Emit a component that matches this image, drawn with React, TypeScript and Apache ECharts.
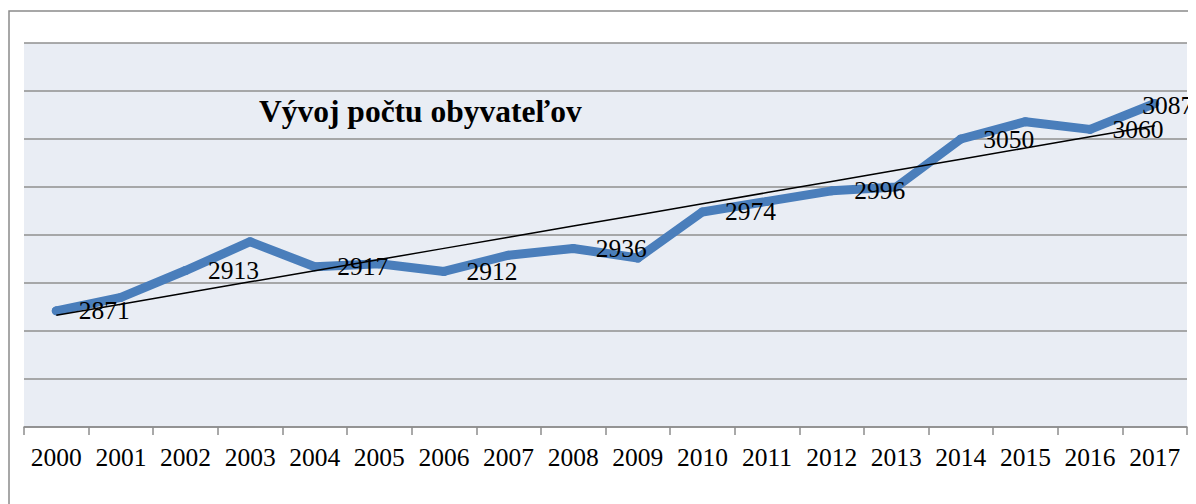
import React, { useEffect, useRef } from "react";
import * as echarts from "echarts";

const years = ["2000","2001","2002","2003","2004","2005","2006","2007","2008","2009","2010","2011","2012","2013","2014","2015","2016","2017"];
const population = [2871, 2885, 2913, 2943, 2917, 2920, 2912, 2929, 2936, 2926, 2974, 2985, 2996, 3000, 3050, 3068, 3060, 3087];
const labeledYears = ["2000","2002","2004","2006","2008","2010","2012","2014","2016","2017"];
const titleText = "Vývoj počtu obyvateľov";

const FONT = "'Liberation Serif', 'Times New Roman', serif";

function linearTrend(values: number[]): number[] {
  const n = values.length;
  const mx = (n - 1) / 2;
  const my = values.reduce((a, b) => a + b, 0) / n;
  let sxy = 0, sxx = 0;
  values.forEach((v, i) => { sxy += (i - mx) * (v - my); sxx += (i - mx) * (i - mx); });
  const slope = sxy / sxx;
  return values.map((_, i) => my + slope * (i - mx));
}

export default function App() {
  const ref = useRef<HTMLDivElement>(null);
  useEffect(() => {
    document.body.style.overflow = "hidden";
    document.documentElement.style.overflow = "hidden";
    if (!ref.current) return;
    const chart = echarts.init(ref.current, undefined, { renderer: "svg" });
    const trend = linearTrend(population);
    const lastIdx = years.length - 1;
    chart.setOption({
      animation: false,
      backgroundColor: "#ffffff",
      grid: {
        left: 16, top: 35, width: 1163, height: 384,
        show: true, backgroundColor: "#E9EDF4", borderWidth: 0,
      },
      xAxis: {
        type: "category",
        data: years,
        boundaryGap: true,
        axisLine: { show: true, lineStyle: { color: "#8c8c8c", width: 1.5 } },
        axisTick: { show: true, length: 8, interval: 0, lineStyle: { color: "#8c8c8c", width: 1.5 } },
        axisLabel: { interval: 0, fontSize: 25.5, fontFamily: FONT, color: "#000", margin: 17 },
        splitLine: { show: false },
      },
      yAxis: {
        type: "value",
        min: 2750, max: 3150, interval: 50,
        axisLabel: { show: false },
        axisLine: { show: false },
        axisTick: { show: false },
        splitLine: { show: true, lineStyle: { color: "#8f8f8f", width: 1.5 } },
      },
      graphic: [
        {
          type: "rect",
          shape: { x: 1, y: 3, width: 1400, height: 1000 },
          style: { fill: "none", stroke: "#8a8a8a", lineWidth: 1.5 },
          silent: true, z: -10,
        },
        {
          type: "text",
          left: 251, top: 87,
          style: { text: titleText, fontSize: 31.5, fontWeight: "bold", fontFamily: FONT, fill: "#000" },
          z: 10,
        },
      ],
      series: [
        {
          type: "line",
          data: population.map((v, i) => {
            const show = labeledYears.includes(years[i]);
            if (i === lastIdx) {
              return {
                value: v,
                label: { show, position: [-8, 7], align: "left", verticalAlign: "middle" },
              };
            }
            return {
              value: v,
              label: { show, position: "right", distance: 18, offset: [0, 2] },
            };
          }),
          symbol: "circle",
          symbolSize: 9,
          showSymbol: true,
          itemStyle: { color: "#4A7EBB" },
          lineStyle: { color: "#4A7EBB", width: 9, cap: "round", join: "round" },
          label: { fontSize: 25.5, fontFamily: FONT, color: "#000" },
          z: 2,
          labelLayout: { hideOverlap: false },
        },
        {
          type: "line",
          data: trend,
          symbol: "none",
          lineStyle: { color: "#000", width: 1.5 },
          z: 3,
          silent: true,
        },
      ],
    });
    return () => chart.dispose();
  }, []);
  return <div ref={ref} style={{ width: 1200, height: 500 }} />;
}
